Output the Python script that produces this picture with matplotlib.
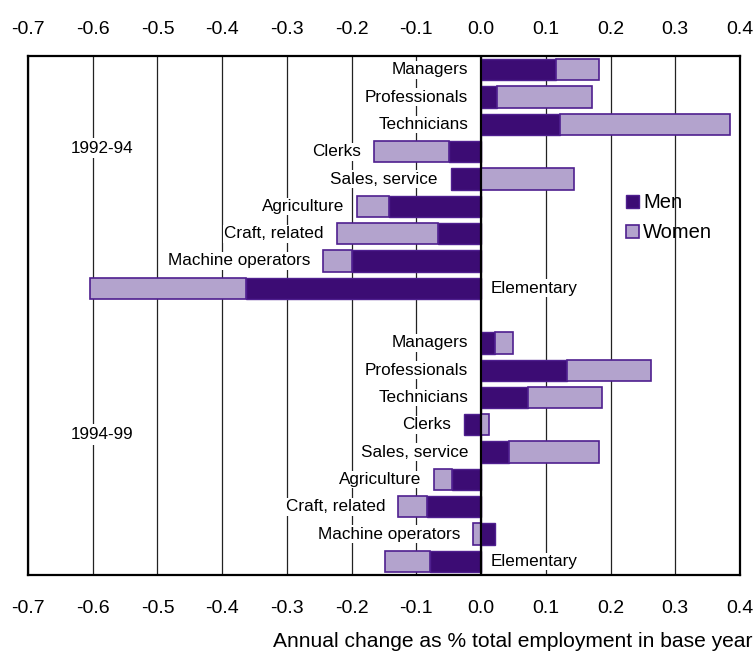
import numpy as np
import matplotlib
matplotlib.use('Agg')
import matplotlib.pyplot as plt
from matplotlib.patches import Patch

plt.rcParams['font.family'] = ['Liberation Sans', 'DejaVu Sans']

# Data (annual change as % of total employment)
occupations = ['Managers', 'Professionals', 'Technicians', 'Clerks',
               'Sales, service', 'Agriculture', 'Craft, related',
               'Machine operators', 'Elementary']
periods = ['1992-94', '1994-99']
men_9294 = [0.115, 0.025, 0.122, -0.049, -0.047, -0.142, -0.067, -0.199, -0.363]
women_9294 = [0.067, 0.147, 0.263, -0.116, 0.144, -0.050, -0.156, -0.045, -0.241]
men_9499 = [0.022, 0.133, 0.073, -0.027, 0.043, -0.045, -0.083, 0.022, -0.079]
women_9499 = [0.027, 0.129, 0.114, 0.013, 0.139, -0.027, -0.045, -0.012, -0.069]
xticks = [-0.7, -0.6, -0.5, -0.4, -0.3, -0.2, -0.1, 0.0, 0.1, 0.2, 0.3, 0.4]
xticklabels = ['-0.7', '-0.6', '-0.5', '-0.4', '-0.3', '-0.2', '-0.1',
               '0.0', '0.1', '0.2', '0.3', '0.4']

dark = '#3C0C74'
light = '#B3A3CD'
edge = '#4F1F8F'

fig = plt.figure(figsize=(7.55, 6.51), dpi=100)
ax = fig.add_axes([0.0371, 0.1167, 0.943, 0.797])

men = np.array(men_9294 + men_9499)
women = np.array(women_9294 + women_9499)
# 9 bars, a blank slot, 9 bars
ypos = np.concatenate([np.arange(9), np.arange(10, 19)])

# women stack on men when same sign, otherwise start from zero (Excel style)
women_left = np.where(np.sign(women) == np.sign(men), men, 0)

ax.barh(ypos, men, height=0.78, color=dark, edgecolor=edge, linewidth=1.0, zorder=3)
ax.barh(ypos, women, left=women_left, height=0.78, color=light, edgecolor=edge,
        linewidth=1.2, zorder=3)

ax.set_xlim(-0.7, 0.4)
ax.set_ylim(18.5, -0.5)
ax.set_yticks([])
ax.set_xticks(xticks)
ax.set_xticklabels(xticklabels)
ax.tick_params(axis='x', length=0, labelsize=14, pad=18)

# same scale repeated along the top
top = ax.secondary_xaxis('top')
top.set_xticks(xticks)
top.set_xticklabels(xticklabels)
top.tick_params(axis='x', length=0, labelsize=14, pad=13)
top.spines['top'].set_visible(False)

ax.grid(axis='x', color='#222222', linewidth=0.9, zorder=0)
ax.set_axisbelow(True)
ax.axvline(0, color='black', linewidth=1.6, zorder=4)
for s in ax.spines.values():
    s.set_linewidth(1.6)

# category labels next to the bars
all_names = occupations + occupations
for name, y, m, w, wl in zip(all_names, ypos, men, women, women_left):
    lo = min(0, m, w + wl, wl)
    if name == 'Elementary':
        ax.text(0.015, y, name, ha='left', va='center', fontsize=12.3, zorder=2,
                bbox=dict(facecolor='white', edgecolor='none', pad=1))
    else:
        ax.text(lo - 0.02, y, name, ha='right', va='center', fontsize=12.3, zorder=2,
                bbox=dict(facecolor='white', edgecolor='none', pad=1))

ax.text(-0.586, 2.87, periods[0], ha='center', va='center', fontsize=12.3, zorder=2,
        bbox=dict(facecolor='white', edgecolor='none', pad=2))
ax.text(-0.586, 13.36, periods[1], ha='center', va='center', fontsize=12.3, zorder=2,
        bbox=dict(facecolor='white', edgecolor='none', pad=2))

handles = [Patch(facecolor=dark, edgecolor=edge, label='Men'),
           Patch(facecolor=light, edgecolor=edge, linewidth=1.2, label='Women')]
ax.legend(handles=handles, loc='upper left', bbox_to_anchor=(0.826, 0.755),
          frameon=False, fontsize=14.5, handlelength=0.65, handleheight=0.65,
          handletextpad=0.2, labelspacing=0.55, borderpad=0)

fig.text(0.997, 0.0, 'Annual change as % total employment in base year',
         ha='right', va='bottom', fontsize=15.1)

fig.savefig('out.png', dpi=100)
